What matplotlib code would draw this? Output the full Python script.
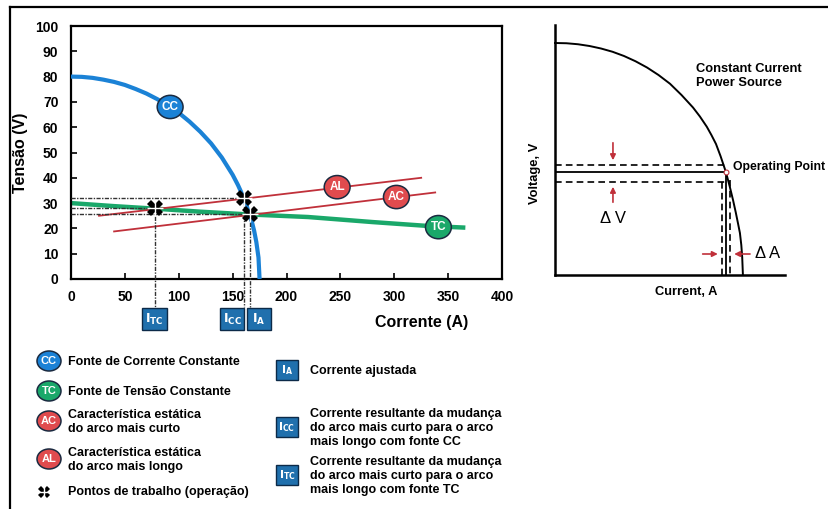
import matplotlib
matplotlib.use("Agg")
import matplotlib.pyplot as plt
from matplotlib.patches import Rectangle, Ellipse

plt.rcParams["font.family"] = ["Liberation Sans", "DejaVu Sans"]

# --- left chart data ---
cc_current = [0, 10, 20, 30, 40, 50, 60, 70, 80, 90, 100, 110, 120, 130, 140,
              150, 155, 160, 165, 168, 170, 172, 174, 175]
cc_voltage = [80, 79.9, 79.5, 78.8, 77.9, 76.7, 75.1, 73.3, 71.1, 68.6, 65.7,
              62.2, 58.2, 53.6, 48, 41.2, 37.1, 32.4, 26.6, 22.4, 19, 14.6, 8.5, 0]
tc_current = [0, 40, 78, 120, 166, 220, 280, 330, 366]
tc_voltage = [30, 28.8, 27.8, 26.6, 25.5, 24.5, 22.5, 21, 20.3]
al_current = [26, 325]
al_voltage = [25, 40]
ac_current = [40, 338]
ac_voltage = [18.8, 34.2]
op_current = [78, 161, 166]
op_voltage = [28, 32, 25.5]

curve_tags = ["CC", "AL", "AC", "TC"]
tag_current = [92, 247, 302, 341]
tag_voltage = [68, 36.3, 32.4, 20.5]

box_labels = [r"$\mathbf{I_{TC}}$", r"$\mathbf{I_{CC}}$", r"$\mathbf{I_{A}}$"]
box_left = [66, 138, 163]

# --- right chart data (arbitrary units) ---
rc_current = [0, 5, 10, 15, 20, 25, 30, 35, 40, 45, 50, 55, 60, 63, 66, 68, 70,
              72, 74.3, 76, 77.4, 78.6, 79.6, 80.4, 81, 81.4, 81.7]
rc_voltage = [92.8, 92.7, 92.3, 91.6, 90.6, 89.3, 87.6, 85.5, 83, 80, 76.5, 72,
              67, 63.4, 59.3, 56, 52.4, 47.5, 41.2, 35.3, 30, 25, 20.5, 16.8,
              12, 7, 0]
rc_op = (74.3, 41.2)
rc_dv = (44, 37.2)
rc_da = (72.6, 76.1)

BLUE = "#1b82d6"
GREEN = "#1aa86a"
RED_LINE = "#c0303a"
RED_TAG = "#e04b4e"
BOX = "#2070ad"
tag_colors = {"CC": BLUE, "TC": GREEN, "AC": RED_TAG, "AL": RED_TAG}

fig = plt.figure(figsize=(8.29, 5.09), dpi=100)

# overlay in pixel coordinates: frame + legend
ov = fig.add_axes([0, 0, 1, 1])
ov.set_xlim(0, 829)
ov.set_ylim(509, 0)
ov.axis("off")
ov.plot([10, 829], [7, 7], color="black", lw=1.6)
ov.plot([10, 10], [7, 509], color="black", lw=1.6)


def tag(axis, x, y, text, w, h, fs=8):
    axis.add_patch(Ellipse((x, y), w, h, facecolor=tag_colors[text], edgecolor="#1a2a40",
                           lw=1.1, zorder=6, clip_on=False))
    axis.text(x, y, text, color="white", fontsize=fs, fontweight="bold",
              ha="center", va="center", zorder=7, clip_on=False)


def op_marker(axis, x, y, size=12):
    axis.plot(x, y, "X", ms=size, color="black", mew=0, zorder=8, clip_on=False)
    axis.plot(x, y, "+", ms=size, color="white", mew=1.0, zorder=9, clip_on=False)


legend_fs = 9
for txt, y in zip(["CC", "TC", "AC", "AL"], [361, 391, 421, 459]):
    tag(ov, 49, y, txt, 24, 20, fs=8)
ov.text(68, 362, "Fonte de Corrente Constante", fontsize=legend_fs, va="center",
        fontweight="bold")
ov.text(68, 392, "Fonte de Tensão Constante", fontsize=legend_fs, va="center",
        fontweight="bold")
ov.text(68, 422, "Característica estática\ndo arco mais curto", fontsize=legend_fs,
        va="center", linespacing=1.2, fontweight="bold")
ov.text(68, 460, "Característica estática\ndo arco mais longo", fontsize=legend_fs,
        va="center", linespacing=1.2, fontweight="bold")
op_marker(ov, 44, 492, size=9)
ov.text(68, 492, "Pontos de trabalho (operação)", fontsize=legend_fs, va="center",
        fontweight="bold")

legend_boxes = [r"$\mathbf{I_{A}}$", r"$\mathbf{I_{CC}}$", r"$\mathbf{I_{TC}}$"]
legend_box_y = [370, 427, 475]
legend_box_text = [
    "Corrente ajustada",
    "Corrente resultante da mudança\ndo arco mais curto para o arco\nmais longo com fonte CC",
    "Corrente resultante da mudança\ndo arco mais curto para o arco\nmais longo com fonte TC",
]
for lab, y, txt in zip(legend_boxes, legend_box_y, legend_box_text):
    ov.add_patch(Rectangle((276, y - 10), 22, 20, facecolor=BOX, edgecolor="#0c2a48", lw=1))
    ov.text(287, y, lab, color="white", fontsize=8, ha="center", va="center")
    ov.text(310, y + 1, txt, fontsize=legend_fs, va="center", linespacing=1.2,
            fontweight="bold")

# --- left chart ---
ax = fig.add_axes([71 / 829, 1 - 279 / 509, 431 / 829, 253 / 509])
ax.set_xlim(0, 400)
ax.set_ylim(0, 100)
ax.set_xticks(range(0, 401, 50))
ax.set_yticks(range(0, 101, 10))
ax.tick_params(direction="in", length=4, width=1.2, labelsize=10)
ax.tick_params(axis="y", pad=9)
ax.tick_params(axis="x", pad=8)
for lab in ax.get_xticklabels() + ax.get_yticklabels():
    lab.set_fontweight("bold")
for sp in ax.spines.values():
    sp.set_linewidth(1.6)

ax.set_ylabel("Tensão (V)", fontsize=11.5, fontweight="bold")
ax.yaxis.set_label_coords(-0.1, 0.5)
ax.text(325, -17, "Corrente (A)", fontsize=11.5, fontweight="bold",
        ha="center", va="center", clip_on=False)

ax.plot(al_current, al_voltage, color=RED_LINE, lw=1.3, zorder=3)
ax.plot(ac_current, ac_voltage, color=RED_LINE, lw=1.3, zorder=3)
ax.plot(tc_current, tc_voltage, color=GREEN, lw=3.2, zorder=2, solid_capstyle="butt")
ax.plot(cc_current, cc_voltage, color=BLUE, lw=3, zorder=4, solid_capstyle="butt")

for x, y in zip(op_current, op_voltage):
    ax.plot([0, x], [y, y], color="#333333", lw=1, ls=(0, (3, 1, 1, 1)), zorder=5)
    ax.plot([x, x], [y, -11], color="#333333", lw=1, ls=(0, (3, 1, 1, 1)),
            zorder=5, clip_on=False)
    op_marker(ax, x, y)

for txt, x, y in zip(curve_tags, tag_current, tag_voltage):
    tag(ax, x, y, txt, 24, 9.2, fs=8.5)

for lab, x0 in zip(box_labels, box_left):
    ax.add_patch(Rectangle((x0, -20.2), 23, 8.8, facecolor=BOX, edgecolor="#0c2a48",
                           lw=1, clip_on=False, zorder=6))
    ax.text(x0 + 11.5, -15.8, lab, color="white", fontsize=9, ha="center",
            va="center", clip_on=False, zorder=7)

# --- right chart ---
ar = fig.add_axes([555 / 829, 1 - 275 / 509, 230 / 829, 250 / 509])
ar.set_xlim(0, 100)
ar.set_ylim(0, 100)
ar.set_xticks([])
ar.set_yticks([])
ar.spines["top"].set_visible(False)
ar.spines["right"].set_visible(False)
ar.spines["left"].set_linewidth(1.8)
ar.spines["bottom"].set_linewidth(1.8)

ar.plot(rc_current, rc_voltage, color="black", lw=1.4, clip_on=False)
ox, oy = rc_op
ar.plot([0, ox], [oy, oy], color="black", lw=1.3)
ar.plot([ox, ox], [oy, 0], color="black", lw=1.3)
ar.plot([0, 73.9], [rc_dv[0], rc_dv[0]], color="black", lw=1.2, ls=(0, (4, 2.5)))
ar.plot([0, rc_da[1]], [rc_dv[1], rc_dv[1]], color="black", lw=1.2, ls=(0, (4, 2.5)))
ar.plot([rc_da[0], rc_da[0]], [rc_dv[1], 0], color="black", lw=1.2, ls=(0, (4, 2.5)))
ar.plot([rc_da[1], rc_da[1]], [rc_dv[1] + 1, 0], color="black", lw=1.2, ls=(0, (4, 2.5)))
ar.plot(ox, oy, "o", ms=3.5, mfc="white", mec="#c0303a", mew=0.8, zorder=5)

arrow = dict(arrowstyle="-|>", color="#c0303a", lw=1.2, mutation_scale=8)
ar.annotate("", xy=(25.2, rc_dv[0] + 0.8), xytext=(25.2, 54), arrowprops=arrow)
ar.annotate("", xy=(25.2, rc_dv[1] - 0.8), xytext=(25.2, 28), arrowprops=arrow)
ar.annotate("", xy=(rc_da[0] - 0.6, 8.4), xytext=(63, 8.4), arrowprops=arrow)
ar.annotate("", xy=(rc_da[1] + 0.6, 8.4), xytext=(86, 8.4), arrowprops=arrow)

rfs = 9.3
ar.text(25.2, 22.5, "Δ V", fontsize=12, ha="center", va="center")
ar.text(87, 8.4, "Δ A", fontsize=12, ha="left", va="center", clip_on=False)
ar.text(61.3, 79.6, "Constant Current\nPower Source", fontsize=rfs, fontweight="bold",
        va="center", linespacing=1.15)
ar.text(77.2, 43.2, "Operating Point", fontsize=8.8, fontweight="bold",
        va="center", clip_on=False)
ar.text(-8.7, 40.8, "Voltage, V", fontsize=rfs, fontweight="bold", rotation=90,
        ha="center", va="center", clip_on=False)
ar.text(57, -6.8, "Current, A", fontsize=rfs, fontweight="bold",
        ha="center", va="center", clip_on=False)

fig.savefig("out.png", dpi=100)
